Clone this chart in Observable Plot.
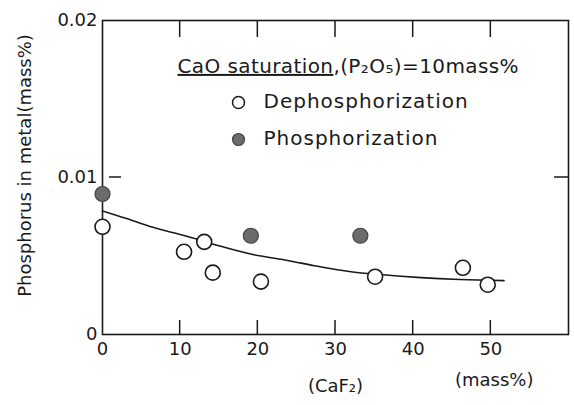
<!DOCTYPE html>
<html>
<head>
<meta charset="utf-8">
<script src="https://cdn.jsdelivr.net/npm/d3@7"></script>
<script src="https://cdn.jsdelivr.net/npm/@observablehq/plot@0.6"></script>
<style>
  html, body { margin: 0; padding: 0; background: white; }
</style>
</head>
<body>
<div id="chart"></div>
<script>
// Data
const dephosX = [0, 10.5, 13.1, 14.2, 20.4, 35.1, 46.4, 49.6];
const dephosY = [0.00686, 0.00527, 0.0059, 0.00394, 0.00337, 0.00368, 0.00425, 0.00317];
const phosX = [0, 19.1, 33.2];
const phosY = [0.00895, 0.00629, 0.00629];
const curveX = [0, 3, 6, 9, 12, 15, 19.5, 24, 27.3, 32, 35, 41, 46, 51.7];
const curveY = [0.00787, 0.0074, 0.0069, 0.0065, 0.0061, 0.00565, 0.00508, 0.0047, 0.00438, 0.0040, 0.00385, 0.00362, 0.0035, 0.00343];
const xDomain = [0, 60];
const yDomain = [0, 0.02];
const xTicks = [0, 10, 20, 30, 40, 50];
const xInnerTicks = [10, 20, 30, 40, 50];
const yTicks = [0, 0.01, 0.02];
const yTickLabels = ["0", "0.01", "0.02"];
const yInnerTicks = [0.01];
const yLabel = "Phosphorus in metal(mass%)";
const xLabel = "(CaF₂)";
const unitLabel = "(mass%)";
const legendTitle = "CaO saturation,(P₂O₅)=10mass%";
const legendLabels = ["Dephosphorization", "Phosphorization"];

const dephos = dephosX.map((x, i) => ({x, y: dephosY[i]}));
const phos = phosX.map((x, i) => ({x, y: phosY[i]}));
const curve = curveX.map((x, i) => ({x, y: curveY[i]}));

const ink = "#1a1a1a";
const grayFill = "#6b6b6b";
const W = 574, H = 405, mL = 102, mT = 20, mR = 6, mB = 71;

const chart = Plot.plot({
  width: W,
  height: H,
  marginLeft: mL,
  marginTop: mT,
  marginRight: mR,
  marginBottom: mB,
  x: {domain: xDomain},
  y: {domain: yDomain},
  style: {fontFamily: "DejaVu Sans", fontSize: "18px", color: ink, background: "white"},
  marks: [
    Plot.frame({stroke: ink, strokeWidth: 1.6}),
    // bottom axis labels
    Plot.axisX(xTicks, {anchor: "bottom", tickSize: 0, tickPadding: 8, tickFormat: d => String(d),
      label: xLabel, labelAnchor: "center", labelArrow: "none", labelOffset: 57}),
    // left axis labels
    Plot.axisY(yTicks, {anchor: "left", tickSize: 0, tickPadding: 5, tickFormat: d => yTickLabels[yTicks.indexOf(d)], label: null}),
    Plot.text([yLabel], {frameAnchor: "left", textAnchor: "middle", rotate: -90, dx: -77, dy: -12, fontSize: 18}),
    // fitted curve
    Plot.line(curve, {x: "x", y: "y", curve: "monotone-x", stroke: ink, strokeWidth: 1.6}),
    // points
    Plot.dot(dephos, {x: "x", y: "y", r: 7.5, fill: "white", stroke: ink, strokeWidth: 1.6}),
    Plot.dot(phos, {x: "x", y: "y", r: 7.5, fill: grayFill, stroke: "#444", strokeWidth: 1.2}),
    // unit label
    Plot.text([unitLabel], {frameAnchor: "bottom-right", dx: -35, dy: 51, fontSize: 18}),
    // legend
    Plot.text([legendTitle], {frameAnchor: "top-left", textAnchor: "start", lineAnchor: "middle", dx: 75, dy: 46, fontSize: 20}),
    Plot.dot([0], {frameAnchor: "top-left", dx: 136, dy: 82, r: 6, fill: "white", stroke: ink, strokeWidth: 1.5}),
    Plot.text([legendLabels[0]], {frameAnchor: "top-left", textAnchor: "start", lineAnchor: "middle", dx: 161, dy: 81, fontSize: 20}),
    Plot.dot([0], {frameAnchor: "top-left", dx: 136, dy: 119, r: 6, fill: grayFill, stroke: "#444", strokeWidth: 1.2}),
    Plot.text([legendLabels[1]], {frameAnchor: "top-left", textAnchor: "start", lineAnchor: "middle", dx: 161, dy: 118, fontSize: 20})
  ]
});

// inner tick marks placed through the chart's own scales
const sx = chart.scale("x"), sy = chart.scale("y");
const tg = d3.select(chart).append("g").attr("stroke", ink).attr("stroke-width", 1.5).attr("fill", "none");
const yBottom = sy.apply(yDomain[0]), yTop = sy.apply(yDomain[1]);
const xLeft = sx.apply(xDomain[0]), xRight = sx.apply(xDomain[1]);
xInnerTicks.forEach(v => {
  const px = sx.apply(v);
  tg.append("line").attr("x1", px).attr("x2", px).attr("y1", yBottom).attr("y2", yBottom - 14);
  tg.append("line").attr("x1", px).attr("x2", px).attr("y1", yTop).attr("y2", yTop + 17);
});
yInnerTicks.forEach(v => {
  const py = sy.apply(v);
  tg.append("line").attr("x1", xLeft + 7).attr("x2", xLeft + 19).attr("y1", py).attr("y2", py);
  tg.append("line").attr("x1", xRight - 14).attr("x2", xRight).attr("y1", py).attr("y2", py);
});

// underline "CaO saturation" in the legend title
d3.select(chart).selectAll("text").each(function() {
  const el = d3.select(this);
  if (el.text() === legendTitle) {
    const t = el.text();
    el.text(null);
    el.style("letter-spacing", "0.4px");
    el.append("tspan").style("text-decoration", "underline").text("CaO saturation");
    el.append("tspan").text(t.slice("CaO saturation".length));
  }
});
d3.select(chart).selectAll("text").filter(function() { return legendLabels.includes(d3.select(this).text()); })
  .style("letter-spacing", "1px");

document.getElementById("chart").appendChild(chart);
</script>
</body>
</html>
